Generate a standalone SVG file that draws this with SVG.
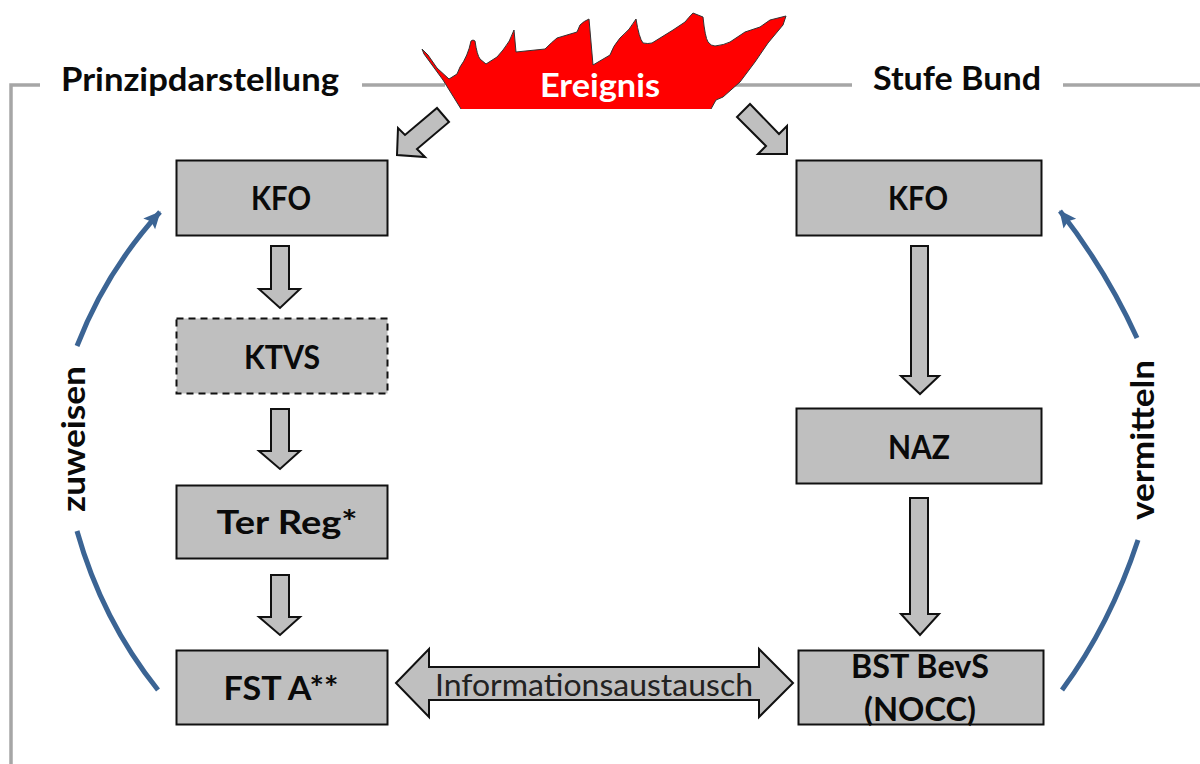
<svg xmlns="http://www.w3.org/2000/svg" width="1200" height="764" viewBox="0 0 1200 764">
<defs>
<marker id="bh" markerUnits="userSpaceOnUse" markerWidth="20" markerHeight="20" refX="16" refY="8" orient="auto"><path d="M0 0L17 8L0 16L3 8Z" fill="#3b6494"/></marker>
<path id="flame" d="M461 109L443 80L424 54L422 49L428 55L437 68L449 79L457 74L460 67Q468 56 471 41Q473 39 475 41Q477 55 480 59L486 64L497 57L503 50Q510 42 514 30L516 52L545 49Q552 42 557 38L577 32L580 25Q584 21 589 19L593 65L610 55Q613 46 620 38Q630 30 636 19Q639 38 643 43Q648 44 652 43L673 30L685 22Q689 17 693 13L703 17Q705 37 708 42Q711 46 715 46Q724 45 730 42L745 32L760 27L770 20L786 16L783 25L768 43L755 62L740 82L723 97L716 100L711 109"/>
</defs>
<style>
.t{font-family:Lato,"Liberation Sans",sans-serif;font-weight:700;fill:#0a0a0a;text-anchor:middle;font-size:32px}
.b{fill:#bfbfbf;stroke:#111;stroke-width:2}
.a{fill:#bfbfbf;stroke:#111;stroke-width:2}
.f{fill:none;stroke:#a6a6a6;stroke-width:3.500}
.c{fill:none;stroke:#3b6494;stroke-width:5}
</style>
<rect width="1200" height="764" fill="#fff"/>
<g id="frame">
<path class="f" d="M40 85H11V764M362 85H445M735 85H852M1063 85H1200"/>
</g>
<g id="ereignis">
<use href="#flame" fill="#f00"/>
<use href="#flame" fill="none" stroke="#333" stroke-width="1"/>
<text class="t" x="600" y="97" style="fill:#fff" textLength="120" lengthAdjust="spacingAndGlyphs">Ereignis</text>
</g>
<g id="label-prinzip"><text class="t" x="200" y="91" textLength="278" lengthAdjust="spacingAndGlyphs">Prinzipdarstellung</text></g>
<g id="label-bund"><text class="t" x="957" y="90" textLength="168" lengthAdjust="spacingAndGlyphs">Stufe Bund</text></g>
<g id="kfo-l"><rect class="b" x="176.500" y="160.500" width="211" height="75"/><text class="t" x="281" y="210" textLength="60" lengthAdjust="spacingAndGlyphs">KFO</text></g>
<g id="ktvs"><rect class="b" x="176.500" y="318.500" width="211" height="75" stroke-dasharray="7 5"/><text class="t" x="282" y="369" textLength="76" lengthAdjust="spacingAndGlyphs">KTVS</text></g>
<g id="terreg"><rect class="b" x="176.500" y="485.500" width="211" height="73"/><text class="t" x="287" y="534" textLength="141" lengthAdjust="spacingAndGlyphs">Ter Reg*</text></g>
<g id="fsta"><rect class="b" x="176.500" y="650.500" width="211" height="74"/><text class="t" x="281" y="700" textLength="115" lengthAdjust="spacingAndGlyphs">FST A**</text></g>
<g id="kfo-r"><rect class="b" x="796.500" y="160.500" width="245" height="75"/><text class="t" x="918" y="210" textLength="60" lengthAdjust="spacingAndGlyphs">KFO</text></g>
<g id="naz"><rect class="b" x="796.500" y="408.500" width="245" height="75"/><text class="t" x="919" y="459" textLength="62" lengthAdjust="spacingAndGlyphs">NAZ</text></g>
<g id="bst"><rect class="b" x="798.500" y="650.500" width="245" height="74"/><text class="t" x="920" y="678" textLength="138" lengthAdjust="spacingAndGlyphs">BST BevS</text><text class="t" x="920" y="721" textLength="112" lengthAdjust="spacingAndGlyphs">(NOCC)</text></g>
<g id="connectors">
<path class="a" d="M437 108L449 122L417 149L425 157L397 155L398 128L405 135Z"/>
<path class="a" d="M750 104L737 117L766 146L758 154L787 154L787 126L779 134Z"/>
<path class="a" d="M271 246H289V289H300L280 308L259 289H271Z"/>
<path class="a" d="M271 409H289V451H300L280 469L259 451H271Z"/>
<path class="a" d="M271 575H289V617H300L280 635L259 617H271Z"/>
<path class="a" d="M911 246H928V376H939L920 394L901 376H911Z"/>
<path class="a" d="M910 498H928V614H939L920 635L901 614H910Z"/>
<path class="a" d="M396 683L429 649V667H759V649L793 683L759 717V700H429V717Z"/>
<text x="594" y="696" font-family="Lato,'Liberation Sans',sans-serif" font-size="31" fill="#222" text-anchor="middle" textLength="318" lengthAdjust="spacingAndGlyphs">Informationsaustausch</text>
<path class="c" d="M77 346Q106 271 160 212" marker-end="url(#bh)"/>
<path class="c" d="M77 531Q102 620 158 690"/>
<path class="c" d="M1137 338Q1106 270 1060 211" marker-end="url(#bh)"/>
<path class="c" d="M1138 540Q1110 625 1062 690"/>
<text class="t" transform="translate(85 439) rotate(-90)" textLength="146" lengthAdjust="spacingAndGlyphs">zuweisen</text>
<text class="t" transform="translate(1154 440) rotate(-90)" textLength="160" lengthAdjust="spacingAndGlyphs">vermitteln</text>
</g>
</svg>
